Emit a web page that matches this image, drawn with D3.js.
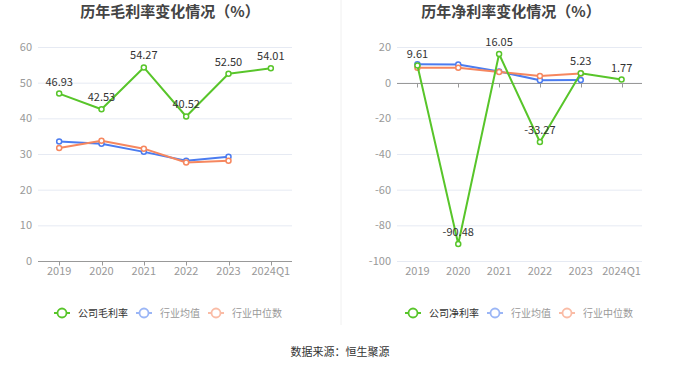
<!DOCTYPE html>
<html><head><meta charset="utf-8">
<script src="https://cdn.jsdelivr.net/npm/d3@7"></script>
<style>
html,body{margin:0;padding:0;background:#fff;}
svg{display:block;font-family:"Noto Sans CJK SC","Noto Sans",sans-serif;}
</style></head>
<body><svg id="c" width="680" height="367"></svg>
<script>
const categories = ["2019","2020","2021","2022","2023","2024Q1"];
const grossCompany = [46.93, 42.53, 54.27, 40.52, 52.50, 54.01];
const grossIndustryAvg = [33.5, 32.9, 30.6, 28.1, 29.2, null];
const grossIndustryMedian = [31.7, 33.7, 31.5, 27.6, 28.1, null];
const netCompany = [9.61, -90.48, 16.05, -33.27, 5.23, 1.77];
const netIndustryAvg = [10.3, 10.2, 6.3, 1.3, 1.5, null];
const netIndustryMedian = [8.4, 8.4, 6.0, 3.7, 5.1, null];
const grossTicks = [0,10,20,30,40,50,60];
const netTicks = [-100,-80,-60,-40,-20,0,20];

const C_GREEN = "#58c52a", C_BLUE = "#4b7cf0", C_ORANGE = "#f6875f";
const svg = d3.select("#c");

// divider
svg.append("line").attr("x1",341).attr("x2",341).attr("y1",0).attr("y2",325)
  .attr("stroke","#f0f0f0").attr("stroke-width",1);

function panel(opt){
  const g = svg.append("g");
  const x = d3.scaleBand().domain(categories).range(opt.xr);
  const cx = d => x(d) + x.bandwidth()/2;
  const y = d3.scaleLinear().domain(opt.dom).range([261,47]);
  // title
  g.append("text").attr("x",opt.tx).attr("y",17).attr("text-anchor","middle")
    .attr("font-size",15).attr("font-weight","bold").attr("fill","#444").text(opt.title);
  // grid
  g.selectAll(".grid").data(opt.ticks).join("line")
    .attr("x1",opt.xr[0]).attr("x2",opt.xr[1])
    .attr("y1",d=>y(d)+0.5).attr("y2",d=>y(d)+0.5)
    .attr("stroke","#e6eaf3").attr("stroke-width",1);
  // y labels
  g.selectAll(".yl").data(opt.ticks).join("text")
    .attr("x",opt.xr[0]-6).attr("y",d=>y(d)).attr("dy","0.35em")
    .attr("text-anchor","end").attr("font-size",11).attr("fill","#999").text(d=>d);
  // x axis line at 0
  const y0 = Math.round(y(0))+0.5;
  g.append("line").attr("x1",opt.xr[0]).attr("x2",opt.xr[1]).attr("y1",y0).attr("y2",y0)
    .attr("stroke","#999").attr("stroke-width",1);
  g.selectAll(".xt").data(categories).join("line")
    .attr("x1",d=>Math.round(cx(d))+0.5).attr("x2",d=>Math.round(cx(d))+0.5)
    .attr("y1",y0).attr("y2",y0+4).attr("stroke","#999");
  // x labels
  g.selectAll(".xl").data(categories).join("text")
    .attr("x",cx).attr("y",275).attr("text-anchor","middle")
    .attr("font-size",11).attr("fill","#999").text(d=>d);
  // series
  const series = [
    {v:opt.avg, c:C_BLUE},
    {v:opt.med, c:C_ORANGE},
    {v:opt.comp, c:C_GREEN}
  ];
  series.forEach(s=>{
    const pts = categories.map((c,i)=>({c, v:s.v[i]})).filter(p=>p.v!==null);
    const line = d3.line().x(p=>cx(p.c)).y(p=>y(p.v));
    g.append("path").attr("d",line(pts)).attr("fill","none")
      .attr("stroke",s.c).attr("stroke-width",2).attr("stroke-linejoin","round");
    g.selectAll(null).data(pts).join("circle")
      .attr("cx",p=>cx(p.c)).attr("cy",p=>y(p.v)).attr("r",2.5)
      .attr("fill","#fff").attr("stroke",s.c).attr("stroke-width",1.5);
  });
  // labels
  g.selectAll(".dl").data(categories.map((c,i)=>({c,v:opt.comp[i]}))).join("text")
    .attr("x",p=>cx(p.c)).attr("y",p=>y(p.v)-8).attr("text-anchor","middle")
    .attr("font-size",11).attr("fill","#333").text(p=>p.v.toFixed(2));
  // legend
  const items = [
    {name:opt.legend, c:C_GREEN, op:1, tc:"#333"},
    {name:"行业均值", c:C_BLUE, op:0.55, tc:"#999"},
    {name:"行业中位数", c:C_ORANGE, op:0.55, tc:"#999"}
  ];
  let lx = opt.lx;
  items.forEach(it=>{
    const lg = g.append("g").attr("transform",`translate(${lx},313)`).attr("opacity",it.op);
    lg.append("line").attr("x1",0).attr("x2",16).attr("y1",0).attr("y2",0)
      .attr("stroke",it.c).attr("stroke-width",2);
    lg.append("circle").attr("cx",8).attr("cy",0).attr("r",4.5)
      .attr("fill","#fff").attr("stroke",it.c).attr("stroke-width",1.8);
    const t = g.append("text").attr("x",lx+24).attr("y",313).attr("dy","0.35em")
      .attr("font-size",10).attr("fill",it.tc).text(it.name);
    lx += 24 + t.node().getComputedTextLength() + 8;
  });
}

panel({xr:[38,292], dom:[0,60], ticks:grossTicks, tx:170, title:"历年毛利率变化情况（%）",
  comp:grossCompany, avg:grossIndustryAvg, med:grossIndustryMedian, legend:"公司毛利率", lx:54});
panel({xr:[397,642], dom:[-100,20], ticks:netTicks, tx:511, title:"历年净利率变化情况（%）",
  comp:netCompany, avg:netIndustryAvg, med:netIndustryMedian, legend:"公司净利率", lx:405});

svg.append("text").attr("x",340).attr("y",352).attr("text-anchor","middle").attr("dy","0.35em")
  .attr("font-size",11).attr("fill","#333").text("数据来源：恒生聚源");
</script></body></html>
